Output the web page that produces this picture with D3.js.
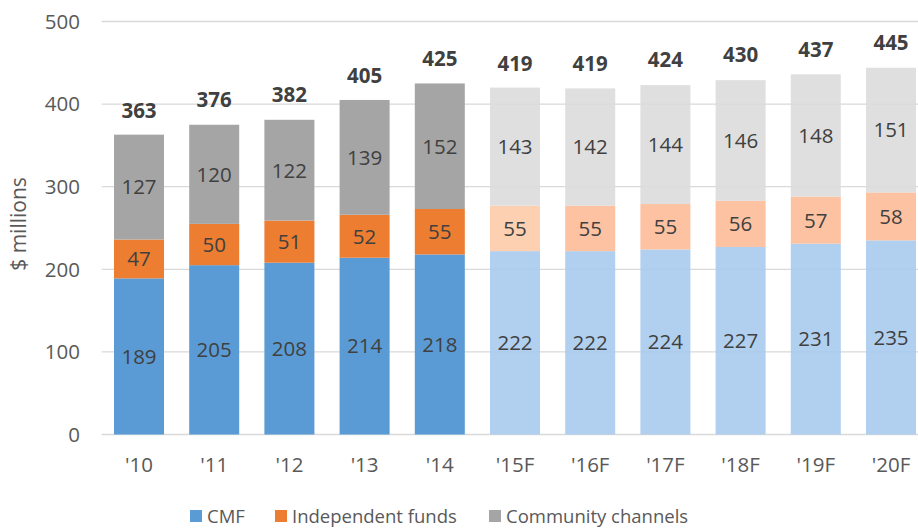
<!DOCTYPE html>
<html>
<head>
<meta charset="utf-8">
<script src="https://cdn.jsdelivr.net/npm/d3@7/dist/d3.min.js"></script>
<style>
  html, body { margin: 0; padding: 0; background: #fff; }
  svg text { font-family: "Open Sans", "Noto Sans", sans-serif; }
</style>
</head>
<body>
<svg id="chart" width="918" height="529"></svg>
<script>
const categories = ["'10", "'11", "'12", "'13", "'14", "'15F", "'16F", "'17F", "'18F", "'19F", "'20F"];
const forecast   = [false, false, false, false, false, true, true, true, true, true, true];
const cmf        = [189, 205, 208, 214, 218, 222, 222, 224, 227, 231, 235];
const indep      = [47, 50, 51, 52, 55, 55, 55, 55, 56, 57, 58];
const community  = [127, 120, 122, 139, 152, 143, 142, 144, 146, 148, 151];
const totals     = [363, 376, 382, 405, 425, 419, 419, 424, 430, 437, 445];
const yTicks     = [0, 100, 200, 300, 400, 500];
const seriesNames = ["CMF", "Independent funds", "Community channels"];

const colors = {
  actual:   ["#5b9bd5", "#ed7d31", "#a5a5a5"],
  forecast: ["#a9cbee", "#fcbb98", "#dcdcdc"],
  forecastFirstOrange: "#fdcba8"
};

const svg = d3.select("#chart");
const x = d3.scaleBand().domain(categories).range([101.4, 928.6]).paddingInner(0.335).paddingOuter(0.1675);
const y = d3.scaleLinear().domain([0, 500]).range([434.5, 21.5]);

// gridlines
svg.append("g").selectAll("line").data(yTicks).join("line")
  .attr("x1", 101.7).attr("x2", 918)
  .attr("y1", d => y(d)).attr("y2", d => y(d))
  .attr("stroke", "#d9d9d9").attr("stroke-width", 1.3);

// y tick labels
svg.append("g").selectAll("text").data(yTicks).join("text")
  .attr("x", 80).attr("y", d => y(d)).attr("dy", "0.36em")
  .attr("text-anchor", "end").attr("font-size", 20.5).attr("fill", "#595959")
  .text(d => d);

// y title
svg.append("text")
  .attr("transform", "translate(19,224) rotate(-90)")
  .attr("text-anchor", "middle").attr("dy", "0.35em")
  .attr("font-size", 21).attr("fill", "#595959")
  .text("$ millions");

// stacked data
const rows = categories.map((c, i) => ({ cat: c, i, vals: [cmf[i], indep[i], community[i]] }));
const segs = [];
rows.forEach(r => {
  let base = 0;
  r.vals.forEach((v, s) => {
    let fill = forecast[r.i] ? colors.forecast[s] : colors.actual[s];
    if (s === 1 && r.i === 5) fill = colors.forecastFirstOrange;
    segs.push({ cat: r.cat, i: r.i, s, y0: base, y1: base + v, v, fill, fc: forecast[r.i] });
    base += v;
  });
});

const bars = svg.append("g");
bars.selectAll("rect").data(segs).join("rect")
  .attr("x", d => x(d.cat)).attr("width", x.bandwidth())
  .attr("y", d => y(d.y1)).attr("height", d => y(d.y0) - y(d.y1))
  .attr("fill", d => d.fill)
  .attr("fill-opacity", d => d.fc ? 0.9 : 1);

// segment labels
svg.append("g").selectAll("text").data(segs).join("text")
  .attr("x", d => x(d.cat) + x.bandwidth() / 2)
  .attr("y", d => y((d.y0 + d.y1) / 2)).attr("dy", "0.36em")
  .attr("text-anchor", "middle").attr("font-size", 20.5).attr("fill", "#404040")
  .text(d => d.v);

// totals
svg.append("g").selectAll("text").data(totals).join("text")
  .attr("x", (d, i) => x(categories[i]) + x.bandwidth() / 2)
  .attr("y", d => y(d) - 17)
  .attr("text-anchor", "middle").attr("font-size", 20.5).attr("font-weight", "bold").attr("fill", "#404040")
  .text(d => d);

// x labels
svg.append("g").selectAll("text").data(categories).join("text")
  .attr("x", d => x(d) + x.bandwidth() / 2).attr("y", 472)
  .attr("text-anchor", "middle").attr("font-size", 20.5).attr("fill", "#595959")
  .text(d => d);

// legend
const legendX = [190, 275, 489];
const lg = svg.append("g").selectAll("g").data(seriesNames).join("g")
  .attr("transform", (d, i) => `translate(${legendX[i]},510)`);
lg.append("rect").attr("width", 12).attr("height", 12).attr("fill", (d, i) => colors.actual[i]);
lg.append("text").attr("x", 17).attr("y", 6).attr("dy", "0.36em")
  .attr("font-size", 18.5).attr("fill", "#595959").text(d => d);
</script>
</body>
</html>
